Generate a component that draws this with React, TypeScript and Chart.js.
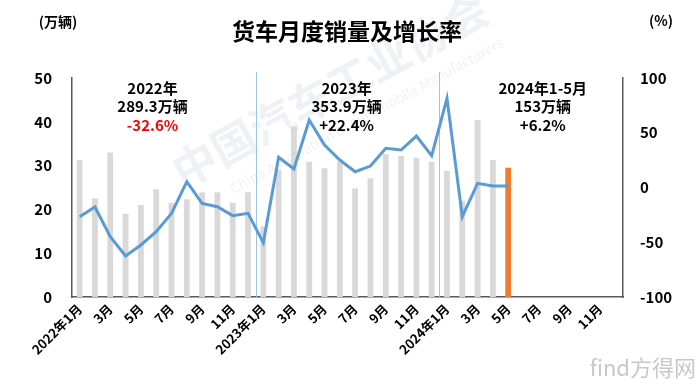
import React, { useEffect, useRef } from "react";
import { Chart, registerables } from "chart.js";

Chart.register(...registerables);

const categories = [
  "2022年1月", "2月", "3月", "4月", "5月", "6月", "7月", "8月", "9月", "10月", "11月", "12月",
  "2023年1月", "2月", "3月", "4月", "5月", "6月", "7月", "8月", "9月", "10月", "11月", "12月",
  "2024年1月", "2月", "3月", "4月", "5月", "6月", "7月", "8月", "9月", "10月", "11月", "12月",
];

// monthly truck sales (万辆)
const salesValues = [
  31.3, 22.5, 33.0, 19.0, 21.0, 24.6, 21.5, 22.3, 23.9, 23.9, 21.5, 23.9,
  16.1, 29.0, 38.9, 30.9, 29.4, 30.9, 24.8, 27.1, 32.6, 32.2, 31.8, 30.9,
  28.8, 22.0, 40.4, 31.3, 29.5,
];

// year-on-year growth (%)
const growthValues = [
  -26.7, -17.8, -44.9, -62.6, -52.5, -40.3, -23.6, 5.3, -14.5, -17.5, -25.7, -23.6,
  -50.4, 27.6, 16.9, 61.6, 38.8, 25.1, 14.4, 19.6, 35.8, 34.2, 47.0, 29.0,
  81.5, -26.7, 3.8, 1.4, 1.4,
];

const yearNotes = [
  { at: 4.76, lines: ["2022年", "289.3万辆", "-32.6%"], lastColor: "#FF0000" },
  { at: 17.44, lines: ["2023年", "353.9万辆", "+22.4%"], lastColor: "#000000" },
  { at: 30.26, lines: ["2024年1-5月", "153万辆", "+6.2%"], lastColor: "#000000" },
];
const yearBoundaries = [11.5, 23.5];

const FONT = "'Noto Sans CJK SC', 'Noto Sans', sans-serif";

export default function App() {
  const ref = useRef<HTMLCanvasElement | null>(null);

  useEffect(() => {
    document.body.style.margin = "0";
    const canvas = ref.current;
    if (!canvas) return;

    const barColors = salesValues.map((_, i) =>
      i === salesValues.length - 1 ? "#ED7D31" : "#D9D9D9"
    );
    const pad = (arr: number[]) =>
      categories.map((_, i) => (i < arr.length ? arr[i] : null));

    const decor = {
      id: "decor",
      beforeDraw(chart: any) {
        const { ctx } = chart;
        ctx.save();
        ctx.fillStyle = "#ffffff";
        ctx.fillRect(0, 0, chart.width, chart.height);
        // faint watermark
        ctx.fillStyle = "rgba(200,204,214,0.28)";
        ctx.translate(330, 90);
        ctx.rotate(-0.5);
        ctx.font = `bold 44px ${FONT}`;
        ctx.textAlign = "center";
        ctx.textBaseline = "middle";
        ctx.fillText("中国汽车工业协会", 0, 0);
        ctx.font = `14px ${FONT}`;
        ctx.fillText("China Association of Automobile Manufacturers", 20, 40);
        ctx.restore();
      },
      beforeDatasetsDraw(chart: any) {
        const { ctx, chartArea, scales } = chart;
        ctx.save();
        ctx.strokeStyle = "#9DC3E6";
        ctx.lineWidth = 1;
        yearBoundaries.forEach((b) => {
          const x = Math.round(scales.x.getPixelForValue(b)) + 0.5;
          ctx.beginPath();
          ctx.moveTo(x, chartArea.top - 6);
          ctx.lineTo(x, chartArea.bottom);
          ctx.stroke();
        });
        ctx.restore();
      },
      afterDraw(chart: any) {
        const { ctx, scales } = chart;
        ctx.save();
        ctx.textAlign = "center";
        ctx.textBaseline = "middle";
        ctx.fillStyle = "#000";
        ctx.font = `bold 23px ${FONT}`;
        ctx.fillText("货车月度销量及增长率", 347, 31);
        ctx.font = `bold 14px ${FONT}`;
        ctx.fillText("(万辆)", 58, 22);
        ctx.fillText("(%)", 661, 21);
        ctx.font = `bold 15px ${FONT}`;
        yearNotes.forEach((n) => {
          const x = scales.x.getPixelForValue(n.at);
          n.lines.forEach((t, i) => {
            ctx.fillStyle = i === 2 ? n.lastColor : "#000";
            ctx.fillText(t, x, 88 + i * 18.5);
          });
        });
        // site mark
        ctx.textAlign = "right";
        ctx.fillStyle = "#C8C8C8";
        ctx.font = `22px ${FONT}`;
        ctx.fillText("find方得网", 696, 368);
        ctx.restore();
      },
    };

    const chart = new Chart(canvas, {
      data: {
        labels: categories,
        datasets: [
          {
            type: "line",
            label: "增长率",
            data: pad(growthValues),
            yAxisID: "y1",
            borderColor: "#5B9BD5",
            borderWidth: 3,
            pointRadius: 0,
            tension: 0,
            spanGaps: false,
            order: 0,
          },
          {
            type: "bar",
            label: "销量",
            data: pad(salesValues),
            yAxisID: "y",
            backgroundColor: barColors,
            barPercentage: 0.38,
            categoryPercentage: 1,
            order: 1,
          },
        ],
      } as any,
      options: {
        animation: false,
        responsive: true,
        maintainAspectRatio: false,
        layout: { padding: { top: 78, left: 0, right: 0, bottom: 0 } },
        plugins: {
          legend: { display: false },
          tooltip: { enabled: false },
          title: { display: false },
        },
        scales: {
          x: {
            offset: true,
            grid: { display: false, drawTicks: false },
            border: { display: true, color: "#595959", width: 1.5 },
            ticks: {
              autoSkip: false,
              minRotation: 45,
              maxRotation: 45,
              padding: 4,
              color: "#000",
              font: { family: FONT, size: 13, weight: "bold" },
              callback: (_v: any, i: number) => (i % 2 === 0 ? categories[i] : ""),
            },
            afterFit: (s: any) => {
              s.height = 87;
            },
          },
          y: {
            position: "left",
            min: 0,
            max: 50,
            ticks: {
              stepSize: 10,
              padding: 20,
              color: "#000",
              font: { family: FONT, size: 15, weight: "bold" },
            },
            grid: { display: false, drawTicks: false },
            border: { display: true, color: "#595959", width: 1.5 },
            afterFit: (s: any) => {
              s.width = 72;
            },
          },
          y1: {
            position: "right",
            min: -100,
            max: 100,
            ticks: {
              stepSize: 50,
              padding: 17,
              color: "#000",
              font: { family: FONT, size: 15, weight: "bold" },
            },
            grid: { display: false, drawTicks: false },
            border: { display: true, color: "#595959", width: 1.5 },
            afterFit: (s: any) => {
              s.width = 77;
            },
          },
        },
      } as any,
      plugins: [decor],
    });

    return () => chart.destroy();
  }, []);

  return (
    <div style={{ position: "absolute", left: 0, top: 0, width: 700, height: 384 }}>
      <canvas ref={ref} />
    </div>
  );
}
